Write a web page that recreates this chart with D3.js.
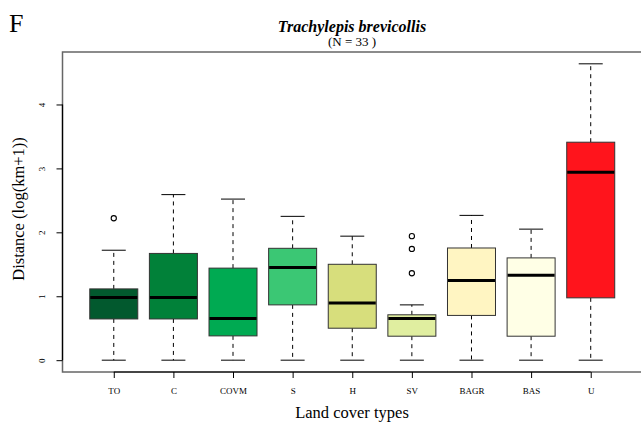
<!DOCTYPE html>
<html>
<head>
<meta charset="utf-8">
<script src="https://cdn.jsdelivr.net/npm/d3@7"></script>
<style>
  body { margin: 0; background: #fff; }
  svg { display: block; font-family: "Liberation Serif", "DejaVu Serif", serif; }
</style>
</head>
<body>
<div id="chart"></div>
<script>
/* Trachylepis brevicollis — distance by land cover type (box plot) */

const categories = ["TO", "C", "COVM", "S", "H", "SV", "BAGR", "BAS", "U"];
const lowerWhisker = [0, 0, 0, 0, 0, 0, 0, 0, 0];
const q1Values     = [0.645, 0.645, 0.38, 0.865, 0.50, 0.375, 0.70, 0.375, 0.975];
const medianValues = [0.98, 0.98, 0.65, 1.45, 0.895, 0.65, 1.245, 1.33, 2.94];
const q3Values     = [1.115, 1.67, 1.44, 1.75, 1.50, 0.71, 1.755, 1.60, 3.41];
const upperWhisker = [1.72, 2.59, 2.52, 2.25, 1.94, 0.865, 2.265, 2.05, 4.636];
const outliers     = [[2.22], [], [], [], [], [1.36, 1.74, 1.94], [], [], []];
const boxColors    = ["#02592e", "#018139", "#00aa52", "#3bc774", "#d7de7c",
                      "#e0eea0", "#fff5c2", "#ffffe6", "#ff141c"];
const yTicks = [0, 1, 2, 3, 4];

const W = 641, H = 425;
const plot = { left: 62.5, right: 642, top: 52, bottom: 372 };

const svg = d3.select("#chart").append("svg")
  .attr("width", W).attr("height", H);

const x = d3.scaleLinear().domain([0.14, 9.86]).range([plot.left, plot.right]);
const y = d3.scaleLinear().domain([-0.185, 4.821]).range([plot.bottom, plot.top]);

const boxHalf = 24;
const capHalf = 12;

/* frame */
svg.append("rect")
  .attr("x", plot.left).attr("y", plot.top)
  .attr("width", plot.right - plot.left).attr("height", plot.bottom - plot.top)
  .attr("fill", "none").attr("stroke", "#666").attr("stroke-width", 1.5);

const data = categories.map((c, i) => ({
  cat: c, pos: i + 1,
  lo: lowerWhisker[i], q1: q1Values[i], med: medianValues[i],
  q3: q3Values[i], hi: upperWhisker[i], out: outliers[i], color: boxColors[i]
}));

const g = svg.append("g");
const box = g.selectAll(".bx").data(data).enter().append("g").attr("class", "bx");

/* whiskers */
box.append("line")
  .attr("x1", d => x(d.pos)).attr("x2", d => x(d.pos))
  .attr("y1", d => y(d.q3)).attr("y2", d => y(d.hi))
  .attr("stroke", "#000").attr("stroke-width", 1).attr("stroke-dasharray", "4,4");
box.append("line")
  .attr("x1", d => x(d.pos)).attr("x2", d => x(d.pos))
  .attr("y1", d => y(d.q1)).attr("y2", d => y(d.lo))
  .attr("stroke", "#000").attr("stroke-width", 1).attr("stroke-dasharray", "4,4");
box.append("line")
  .attr("x1", d => x(d.pos) - capHalf).attr("x2", d => x(d.pos) + capHalf)
  .attr("y1", d => y(d.hi)).attr("y2", d => y(d.hi))
  .attr("stroke", "#000").attr("stroke-width", 1);
box.append("line")
  .attr("x1", d => x(d.pos) - capHalf).attr("x2", d => x(d.pos) + capHalf)
  .attr("y1", d => y(d.lo)).attr("y2", d => y(d.lo))
  .attr("stroke", "#000").attr("stroke-width", 1);

/* boxes */
box.append("rect")
  .attr("x", d => x(d.pos) - boxHalf).attr("width", boxHalf * 2)
  .attr("y", d => y(d.q3)).attr("height", d => y(d.q1) - y(d.q3))
  .attr("fill", d => d.color).attr("stroke", "#333").attr("stroke-width", 1);

/* medians */
box.append("line")
  .attr("x1", d => x(d.pos) - boxHalf + 0.5).attr("x2", d => x(d.pos) + boxHalf - 0.5)
  .attr("y1", d => y(d.med)).attr("y2", d => y(d.med))
  .attr("stroke", "#000").attr("stroke-width", 3);

/* outliers */
box.selectAll("circle").data(d => d.out.map(v => ({ pos: d.pos, v }))).enter()
  .append("circle")
  .attr("cx", d => x(d.pos)).attr("cy", d => y(d.v)).attr("r", 2.6)
  .attr("fill", "none").attr("stroke", "#000").attr("stroke-width", 1.1);

/* y axis (R style: line spans ticks only, labels parallel to axis) */
const yAxis = svg.append("g").attr("transform", `translate(${plot.left},0)`)
  .call(d3.axisLeft(y).tickValues(yTicks).tickSize(6).tickPadding(0).tickFormat(d3.format("d")));
yAxis.select(".domain").remove();
yAxis.append("line").attr("x1", 0).attr("x2", 0)
  .attr("y1", y(yTicks[0])).attr("y2", y(yTicks[yTicks.length - 1]))
  .attr("stroke", "#000").attr("stroke-width", 1.2);
yAxis.selectAll(".tick text")
  .attr("x", 0).attr("dy", null)
  .attr("transform", "translate(-18,0) rotate(-90)")
  .attr("text-anchor", "middle")
  .style("font-family", "Liberation Serif, serif").style("font-size", "9px").style("fill", "#000");

/* x axis */
const xAxis = svg.append("g").attr("transform", `translate(0,${plot.bottom})`)
  .call(d3.axisBottom(x).tickValues(d3.range(1, categories.length + 1))
    .tickSize(6).tickPadding(10).tickFormat(d => categories[d - 1]));
xAxis.select(".domain").remove();
xAxis.append("line").attr("x1", x(1)).attr("x2", x(categories.length))
  .attr("y1", 0).attr("y2", 0).attr("stroke", "#000").attr("stroke-width", 1.2);
xAxis.selectAll(".tick text")
  .style("font-family", "Liberation Serif, serif").style("font-size", "9px").style("fill", "#000");

/* titles */
svg.append("text").attr("x", 352).attr("y", 32).attr("text-anchor", "middle")
  .style("font-size", "16px").style("font-weight", "bold").style("font-style", "italic")
  .text("Trachylepis brevicollis");
svg.append("text").attr("x", 352).attr("y", 46).attr("text-anchor", "middle")
  .style("font-size", "13px")
  .text("(N = 33 )");

svg.append("text").attr("x", 9).attr("y", 32)
  .style("font-size", "26px").text("F");

svg.append("text").attr("transform", `translate(24,209) rotate(-90)`)
  .attr("text-anchor", "middle").style("font-size", "16.5px")
  .text("Distance (log(km+1))");

svg.append("text").attr("x", 352).attr("y", 418).attr("text-anchor", "middle")
  .style("font-size", "16.5px").text("Land cover types");
</script>
</body>
</html>
